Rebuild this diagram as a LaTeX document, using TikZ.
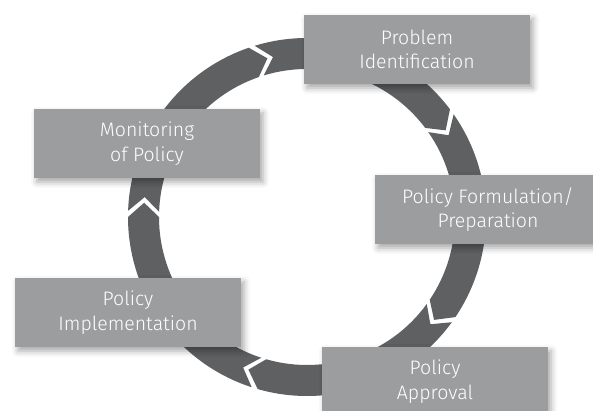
\documentclass[tikz,border=0pt]{standalone}
\usepackage{fontspec}
\setmainfont{Fira Sans}[UprightFont=* Light]
\usetikzlibrary{shadows.blur}
\definecolor{ringgrey}{HTML}{5F6062}
\definecolor{boxgrey}{HTML}{9C9D9F}
\tikzset{
  ringseg/.style={fill=ringgrey},
  stagebox/.style={fill=boxgrey, text=white, minimum width=226pt, minimum height=69pt,
    inner sep=0pt, align=center, font=\fontsize{19.5}{24.5}\selectfont,
    blur shadow={shadow xshift=3pt, shadow yshift=-4pt, shadow blur radius=6pt, shadow opacity=35}}
}
\begin{document}
\begin{tikzpicture}[x=1pt,y=1pt]
\useasboundingbox (0,0) rectangle (593,411);
\clip (0,0) rectangle (593,411);
\def\ro{179}\def\ri{148}\def\rm{163.5}\def\g{2}\def\d{5}
\begin{scope}[shift={(307,194)}]
\foreach \s/\e in {180/109, 109/37, 37/-34, -34/-106, -106/-180}{
  \fill[ringseg] ({\s-\g}:\ro) arc[start angle={\s-\g}, end angle=\e, radius=\ro]
    -- ({\e-\d}:\rm) -- (\e:\ri)
    arc[start angle=\e, end angle={\s-\g}, radius=\ri]
    -- ({\s-\g-\d}:\rm) -- cycle;
}
\end{scope}
\node[stagebox] (problem) at (417,361.5) {Problem\\Identification};
\node[stagebox] (monitor) at (147,267.5) {Monitoring\\of Policy};
\node[stagebox] (formul) at (488,201.5) {Policy Formulation/\\Preparation};
\node[stagebox] (implem) at (128,98.5) {Policy\\Implementation};
\node[stagebox] (approv) at (435,29.5) {Policy\\Approval};
\end{tikzpicture}
\end{document}
